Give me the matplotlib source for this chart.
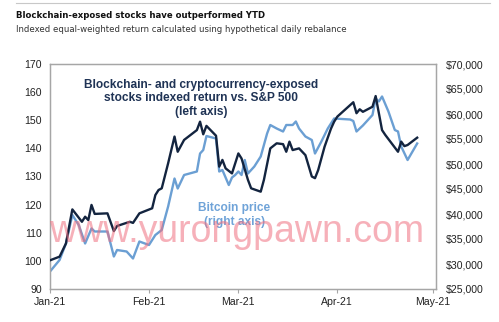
import matplotlib
matplotlib.use("Agg")
from matplotlib import pyplot as plt
import matplotlib.dates as mdates
import matplotlib.ticker as mticker
import numpy as np
import pandas as pd

plt.rcParams['font.family'] = ['Liberation Sans', 'DejaVu Sans']

start = pd.Timestamp('2021-01-01')

# blockchain / crypto exposed stocks index (left axis), days after Jan 1
stock_day = [0, 3, 5, 7, 10, 11, 12, 13, 14, 18, 20, 21, 25, 26, 28, 32, 33, 34, 35, 37,
             39, 40, 42, 46, 47, 48, 49, 52, 53, 54, 55, 57, 59, 60, 62, 63, 66, 67, 69, 71,
             73, 74, 75, 76, 78, 80, 82, 83, 84, 86, 88, 89, 90, 95, 96, 97, 98, 101, 102, 104,
             105, 109, 110, 111, 112, 115]
stock_val = [100.2, 101.5, 106.2, 118.3, 113.9, 115.7, 114.5, 119.9, 116.7, 116.9, 110.6, 112.4,
             113.9, 113.5, 116.9, 118.7, 123.4, 125.2, 125.8, 134.7, 144.2, 138.8, 143.0, 146.5,
             149.5, 145.0, 148.0, 144.5, 133.5, 135.9, 132.9, 131.1, 138.2, 136.4, 128.8, 125.8,
             124.6, 128.8, 140.0, 141.8, 141.5, 138.8, 142.4, 139.4, 140.0, 137.6, 130.0, 129.4,
             132.3, 140.6, 147.0, 149.5, 151.3, 156.4, 152.5, 153.9, 153.0, 154.8, 158.6, 146.5,
             144.8, 138.8, 142.4, 140.8, 141.2, 143.8]

# bitcoin price (right axis)
btc_day = [0, 3, 5, 7, 9, 11, 13, 14, 18, 20, 21, 24, 26, 28, 31, 33, 35, 37, 39, 40,
           42, 46, 47, 48, 49, 52, 53, 54, 56, 57, 58, 59, 60, 61, 62, 64, 66, 68, 69, 71,
           73, 74, 76, 77, 78, 80, 82, 83, 85, 87, 89, 94, 95, 96, 98, 101, 102, 103, 104, 106,
           108, 109, 110, 112, 115]
btc_val = [28500, 30800, 34100, 39800, 37800, 34100, 37100, 36500, 36500, 31500, 32800, 32500,
           31100, 34500, 33800, 35800, 36800, 41500, 47100, 45100, 47800, 48500, 52100, 52800,
           55600, 55100, 48500, 48800, 45800, 47300, 47800, 48500, 47800, 50800, 48100, 49500,
           51500, 56100, 57800, 57100, 56500, 57800, 57800, 58500, 57100, 55500, 54800, 52100,
           54500, 57100, 59100, 58900, 58600, 56500, 57700, 59800, 63100, 62500, 63500, 60500,
           56800, 56500, 53500, 50800, 54100]

month_ticks = ['2021-01-01', '2021-02-01', '2021-03-01', '2021-04-01', '2021-05-01']

dark = '#13243f'
light = '#6b9fd3'
grey = '#a6a6a6'

fig = plt.figure(figsize=(4.99, 3.22), dpi=100)
fig.set_facecolor('white')
ax = fig.add_axes([50/499, 33/322, 386/499, 225/322])
ax2 = ax.twinx()

sx = start + pd.to_timedelta(stock_day, unit='D')
bx = start + pd.to_timedelta(btc_day, unit='D')

ax2.plot(bx, btc_val, color=light, lw=1.7, zorder=2)
ax.plot(sx, stock_val, color=dark, lw=1.7, zorder=3)
ax.set_zorder(ax2.get_zorder() + 1)
ax.patch.set_visible(False)

ax.set_ylim(90, 170)
ax.set_yticks(np.arange(90, 171, 10))
ax2.set_ylim(25000, 70000)
ax2.set_yticks(np.arange(25000, 70001, 5000))
ax2.yaxis.set_major_formatter(mticker.FuncFormatter(lambda v, p: '${:,.0f}'.format(v)))

ax.set_xlim(pd.Timestamp('2021-01-01'), pd.Timestamp('2021-05-01') + pd.Timedelta(days=0.9))
ax.set_xticks(pd.to_datetime(month_ticks))
ax.xaxis.set_major_formatter(mdates.DateFormatter('%b-%y'))

for a in (ax, ax2):
    for s in a.spines.values():
        s.set_color(grey)
        s.set_linewidth(0.9)
ax.tick_params(axis='y', length=0, labelsize=7.6, colors='#222222', pad=6)
ax2.tick_params(axis='y', length=0, labelsize=7.6, colors='#222222', pad=7)
ax.tick_params(axis='x', length=3, color=grey, labelsize=7.6, labelcolor='#222222', pad=3)

ax.text(0.392, 0.935, 'Blockchain- and cryptocurrency-exposed\nstocks indexed return vs. S&P 500\n(left axis)',
        transform=ax.transAxes, ha='center', va='top', fontsize=8.6, fontweight='bold',
        color='#1f3355', linespacing=1.2)
ax.text(0.478, 0.385, 'Bitcoin price\n(right axis)', transform=ax.transAxes, ha='center',
        va='top', fontsize=8.6, fontweight='bold', color='#6fa3d8', linespacing=1.15)

fig.text(16/499, 1 - 16/322, 'Blockchain-exposed stocks have outperformed YTD',
         fontsize=6.8, fontweight='bold', color='#111111', va='center',
         family='DejaVu Sans', fontstretch='condensed')
fig.text(16/499, 1 - 30/322, 'Indexed equal-weighted return calculated using hypothetical daily rebalance',
         fontsize=6.8, color='#333333', va='center',
         family='DejaVu Sans', fontstretch='condensed')
fig.add_artist(plt.Line2D([16/499, 490/499], [1 - 3/322, 1 - 3/322], color='#c8c8c8', lw=0.8))

fig.text(237/499, 1 - 232/322, 'www.yurongpawn.com', fontsize=27, color='#f07080',
         alpha=0.55, ha='center', va='center', zorder=10)

fig.savefig('out.png', dpi=100)
